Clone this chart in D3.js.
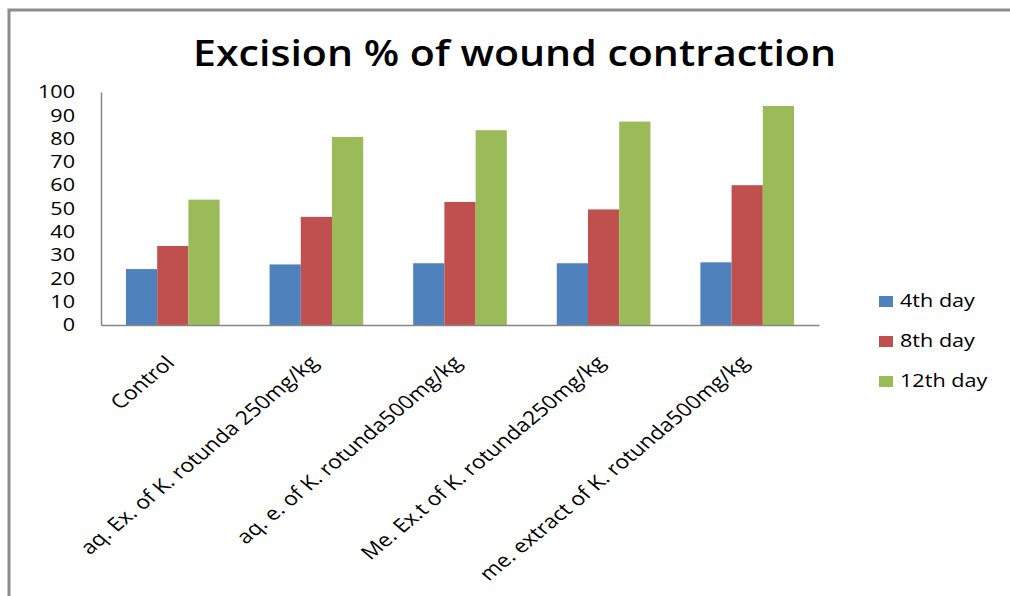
<!DOCTYPE html>
<html>
<head>
<meta charset="utf-8">
<script src="https://cdn.jsdelivr.net/npm/d3@7"></script>
<style>
  body { margin: 0; background: #fff; }
  text { font-family: "Open Sans", sans-serif; fill: #000; }
</style>
</head>
<body>
<script>
var categories = ["Control", "aq. Ex. of K. rotunda 250mg/kg", "aq. e. of K. rotunda500mg/kg",
                  "Me. Ex.t of K. rotunda250mg/kg", "me. extract of K. rotunda500mg/kg"];
var seriesNames = ["4th day", "8th day", "12th day"];
var day4 = [24.0, 26.0, 26.5, 26.5, 26.9];
var day8 = [33.9, 46.4, 52.8, 49.6, 60.0];
var day12 = [53.8, 80.7, 83.6, 87.3, 94.0];
var yTicks = [0, 10, 20, 30, 40, 50, 60, 70, 80, 90, 100];
var colors = ["#4f81bd", "#c0504d", "#9bbb59"];

var width = 1010, height = 596;
var plot = { left: 101, right: 819, top: 92, bottom: 325 };

var svg = d3.select("body").append("svg")
    .attr("width", width)
    .attr("height", height);

// frame lines (top and left only, as in the picture)
svg.append("path")
    .attr("d", "M9,596 V10 H1010")
    .attr("fill", "none")
    .attr("stroke", "#8c8c8c")
    .attr("stroke-width", 3);

svg.append("text")
    .attr("x", 193).attr("y", 66)
    .attr("textLength", 643)
    .attr("lengthAdjust", "spacingAndGlyphs")
    .style("font-size", "36px")
    .style("font-weight", "600")
    .text("Excision % of wound contraction");

var x0 = d3.scaleBand().domain(categories).range([plot.left, plot.right]).padding(0);
var x1 = d3.scaleBand().domain(seriesNames).range([0, x0.bandwidth()]).paddingInner(0).paddingOuter(0.8);
var y = d3.scaleLinear().domain([0, 100]).range([plot.bottom, plot.top]);

var table = categories.map(function (c, i) {
    return { name: c, values: [day4[i], day8[i], day12[i]] };
});

var groups = svg.selectAll("g.grp")
    .data(table)
    .enter().append("g")
    .attr("class", "grp")
    .attr("transform", function (d) { return "translate(" + x0(d.name) + ",0)"; });

groups.selectAll("rect")
    .data(function (d) { return d.values.map(function (v, j) { return { s: seriesNames[j], v: v, j: j }; }); })
    .enter().append("rect")
    .attr("x", function (d) { return x1(d.s); })
    .attr("y", function (d) { return y(d.v); })
    .attr("width", x1.bandwidth())
    .attr("height", function (d) { return plot.bottom - y(d.v); })
    .attr("fill", function (d) { return colors[d.j]; });

// y axis
var yAxis = svg.append("g")
    .attr("transform", "translate(" + plot.left + ",0)")
    .call(d3.axisLeft(y).tickValues(yTicks).tickSize(0).tickPadding(0));
yAxis.select(".domain").attr("stroke", "#868686").attr("stroke-width", 1.5);
yAxis.selectAll(".tick text")
    .attr("x", 0)
    .attr("transform", "translate(-26,0) scale(1.2,1)")
    .style("font-size", "18px")
    .style("font-family", "Open Sans, sans-serif")
    .attr("fill", "#000");

// x axis
var xAxis = svg.append("g")
    .attr("transform", "translate(0," + plot.bottom + ")")
    .call(d3.axisBottom(x0).tickSize(0).tickFormat(""));
xAxis.select(".domain").attr("stroke", "#868686").attr("stroke-width", 1.5);

svg.selectAll("g.xlab")
    .data(categories)
    .enter().append("g")
    .attr("class", "xlab")
    .attr("transform", function (d) { return "translate(" + (x0(d) + x0.bandwidth() / 2 + 3) + ",364) scale(1.2,1)"; })
    .append("text")
    .attr("text-anchor", "end")
    .attr("transform", "rotate(-45)")
    .style("font-size", "19px")
    .text(function (d) { return d; });

// legend
var legend = svg.selectAll("g.leg")
    .data(seriesNames)
    .enter().append("g")
    .attr("class", "leg")
    .attr("transform", function (d, i) { return "translate(879," + (296 + i * 40) + ")"; });
legend.append("rect")
    .attr("width", 14).attr("height", 11)
    .attr("fill", function (d, i) { return colors[i]; });
legend.append("text")
    .attr("transform", "translate(21,11) scale(1.2,1)")
    .style("font-size", "18px")
    .attr("fill", "#222")
    .text(function (d) { return d; });
</script>
</body>
</html>
